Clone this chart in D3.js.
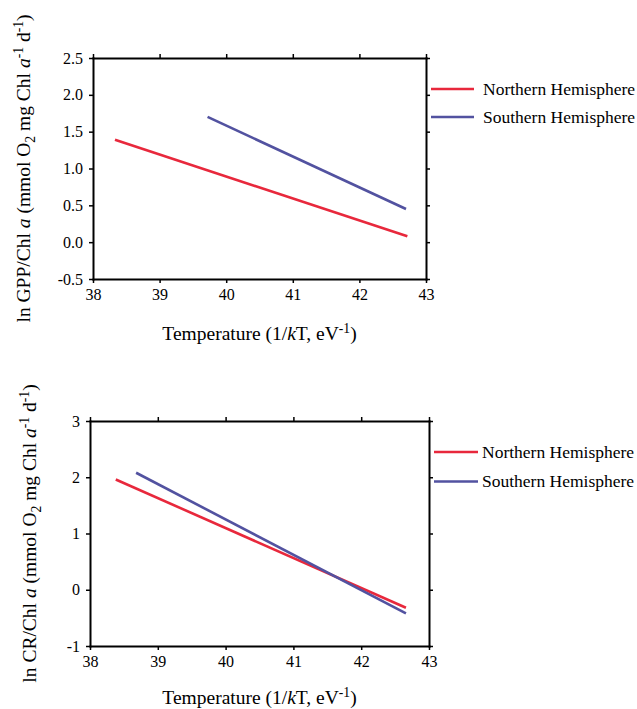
<!DOCTYPE html>
<html>
<head>
<meta charset="utf-8">
<script src="https://cdn.jsdelivr.net/npm/d3@7"></script>
<style>
  body { margin: 0; background: #fff; }
  .axis path, .axis line { stroke: #000; }
  .axis path { stroke-width: 2; }
  .axis line { stroke-width: 1.5; }
</style>
</head>
<body>
<svg id="view" width="637" height="709"></svg>
<script>
// values
const seriesNames = ['Northern Hemisphere', 'Southern Hemisphere'];

const gppNorthX = [38.33, 42.72];
const gppNorthY = [1.39, 0.08];
const gppSouthX = [39.72, 42.70];
const gppSouthY = [1.70, 0.45];

const crNorthX = [38.38, 42.66];
const crNorthY = [1.96, -0.32];
const crSouthX = [38.68, 42.66];
const crSouthY = [2.08, -0.42];

const xTicks = [38, 39, 40, 41, 42, 43];
const gppTicks = [-0.5, 0, 0.5, 1, 1.5, 2, 2.5];
const crTicks = [-1, 0, 1, 2, 3];

const colors = {'Northern Hemisphere': '#e8283c', 'Southern Hemisphere': '#5252a0'};
const serif = '"Liberation Serif", "Times New Roman", Times, serif';

// label pieces: [text, kind]  kind = '', 'i', 'sub', 'sup'
const xTitle = [['Temperature (1/', ''], ['k', 'i'], ['T, eV', ''], ['-1', 'sup'], [')', '']];
const gppTitle = [['ln GPP/Chl ', ''], ['a', 'i'], [' (mmol O', ''], ['2', 'sub'], [' mg Chl ', ''], ['a', 'i'], ['-1', 'sup'], [' d', ''], ['-1', 'sup'], [')', '']];
const crTitle = [['ln CR/Chl ', ''], ['a', 'i'], [' (mmol O', ''], ['2', 'sub'], [' mg Chl ', ''], ['a', 'i'], ['-1', 'sup'], [' d', ''], ['-1', 'sup'], [')', '']];

const svg = d3.select('#view');

const richText = function(sel, pieces, size) {
    let shift = 0;
    pieces.forEach(([t, kind]) => {
        const span = sel.append('tspan').text(t);
        let target = 0;
        if (kind === 'sup') { target = -size * 0.38; span.style('font-size', (size * 0.7) + 'px'); }
        if (kind === 'sub') { target = size * 0.25; span.style('font-size', (size * 0.7) + 'px'); }
        if (kind === 'i') span.style('font-style', 'italic');
        if (target - shift !== 0) span.attr('dy', target - shift);
        shift = target;
    });
};

const hyphenFormat = spec => d => d3.format(spec)(d).replace('\u2212', '-');

const drawPanel = function(cfg) {
    const {left, right, top, bottom, yTicks, yFormat, lines, yTitle, yTitleX, xTitleY, legend} = cfg;

    const x = d3.scaleLinear().domain([38, 43]).range([left, right]);
    const y = d3.scaleLinear().domain([yTicks[0], yTicks[yTicks.length - 1]]).range([bottom, top]);

    const g = svg.append('g');

    g.append('g').attr('class', 'axis')
        .attr('transform', `translate(0,${bottom})`)
        .call(d3.axisBottom(x).tickValues(xTicks).tickSize(4).tickSizeOuter(0).tickPadding(6).tickFormat(d3.format('d')));
    g.append('g').attr('class', 'axis')
        .attr('transform', `translate(0,${top})`)
        .call(d3.axisTop(x).tickValues(xTicks).tickSize(4).tickSizeOuter(0).tickFormat(''));
    g.append('g').attr('class', 'axis')
        .attr('transform', `translate(${left},0)`)
        .call(d3.axisLeft(y).tickValues(yTicks).tickSize(4).tickSizeOuter(0).tickPadding(6).tickFormat(hyphenFormat(yFormat)));
    g.append('g').attr('class', 'axis')
        .attr('transform', `translate(${right},0)`)
        .call(d3.axisRight(y).tickValues(yTicks).tickSize(4).tickSizeOuter(0).tickFormat(''));
    g.selectAll('.axis').attr('font-family', serif).attr('font-size', 16);
    g.selectAll('.axis text').attr('fill', '#000');
    g.selectAll('.axis .domain').attr('stroke-linecap', 'square');

    const line = d3.line().x(d => x(d[0])).y(d => y(d[1]));
    lines.forEach(s => {
        g.append('path')
            .datum(d3.zip(s.xs, s.ys))
            .attr('d', line)
            .attr('fill', 'none')
            .attr('stroke', colors[s.name])
            .attr('stroke-width', 2.6);
    });

    // axis titles
    richText(g.append('text')
        .attr('x', (left + right) / 2)
        .attr('y', xTitleY)
        .attr('text-anchor', 'middle')
        .attr('font-family', serif)
        .style('font-size', '19.5px'), xTitle, 19.5);

    richText(g.append('text')
        .attr('transform', `translate(${yTitleX},${(top + bottom) / 2}) rotate(-90)`)
        .attr('text-anchor', 'middle')
        .attr('font-family', serif)
        .style('font-size', '19.5px'), yTitle, 19.5);

    // legend
    seriesNames.forEach((name, i) => {
        const ly = legend.y + i * legend.step;
        g.append('line')
            .attr('x1', legend.x1).attr('x2', legend.x2)
            .attr('y1', ly).attr('y2', ly)
            .attr('stroke', colors[name]).attr('stroke-width', 2.6);
        g.append('text')
            .attr('x', legend.tx).attr('y', ly)
            .attr('dy', '0.33em')
            .attr('font-family', serif)
            .style('font-size', '17.5px')
            .text(name);
    });
};

drawPanel({
    left: 93, right: 426, top: 58, bottom: 279,
    yTicks: gppTicks, yFormat: '.1f',
    lines: [
        {name: 'Northern Hemisphere', xs: gppNorthX, ys: gppNorthY},
        {name: 'Southern Hemisphere', xs: gppSouthX, ys: gppSouthY}
    ],
    yTitle: gppTitle, yTitleX: 30, xTitleY: 340,
    legend: {x1: 431, x2: 474, tx: 483, y: 89, step: 28}
});

drawPanel({
    left: 90, right: 429, top: 421, bottom: 646,
    yTicks: crTicks, yFormat: 'd',
    lines: [
        {name: 'Northern Hemisphere', xs: crNorthX, ys: crNorthY},
        {name: 'Southern Hemisphere', xs: crSouthX, ys: crSouthY}
    ],
    yTitle: crTitle, yTitleX: 36, xTitleY: 704,
    legend: {x1: 434, x2: 478, tx: 482, y: 452, step: 29.5}
});
</script>
</body>
</html>
